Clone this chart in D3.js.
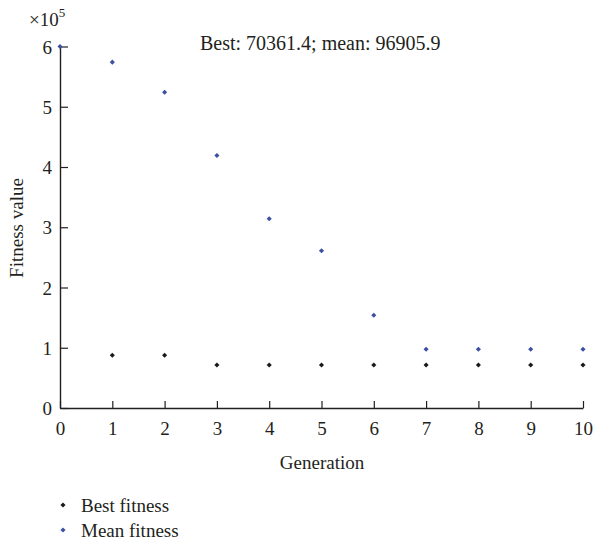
<!DOCTYPE html>
<html>
<head>
<meta charset="utf-8">
<script src="https://cdn.jsdelivr.net/npm/d3@7"></script>
<style>
  body { margin: 0; background: #fff; }
  text { font-family: "Liberation Serif", "DejaVu Serif", serif; fill: #231f20; }
</style>
</head>
<body>
<div id="chart"></div>
<script>
var width = 595;
var height = 546;

// data (fitness values in units of 1e5)
var generations = [0, 1, 2, 3, 4, 5, 6, 7, 8, 9, 10];
var bestFitness = [null, 0.875, 0.875, 0.714, 0.714, 0.714, 0.714, 0.714, 0.714, 0.714, 0.714];
var meanFitness = [6.0, 5.74, 5.24, 4.19, 3.14, 2.61, 1.54, 0.975, 0.975, 0.975, 0.975];
var xTicks = [0, 1, 2, 3, 4, 5, 6, 7, 8, 9, 10];
var yTicks = [0, 1, 2, 3, 4, 5, 6];
var seriesNames = ["Best fitness", "Mean fitness"];
var seriesColors = ["#1a1a1a", "#3a50a5"];
var titleText = "Best: 70361.4; mean: 96905.9";

var fontSize = 19;

var svg = d3.select("#chart")
    .append("svg")
    .attr("width", width)
    .attr("height", height);

var x = d3.scaleLinear().domain([0, 10]).range([60, 583]);
var y = d3.scaleLinear().domain([0, 6]).range([408, 46.5]);

// axes
var xAxis = d3.axisBottom(x).tickValues(xTicks).tickFormat(d3.format("d"))
    .tickSizeInner(-7).tickSizeOuter(0).tickPadding(14);
var yAxis = d3.axisLeft(y).tickValues(yTicks).tickFormat(d3.format("d"))
    .tickSizeInner(-8).tickSizeOuter(0).tickPadding(8);

var gx = svg.append("g").attr("transform", "translate(0,408)").call(xAxis);
var gy = svg.append("g").attr("transform", "translate(60,0)").call(yAxis);

[gx, gy].forEach(function(g){
    g.attr("font-size", fontSize);
    g.select(".domain").attr("stroke", "#231f20").attr("stroke-width", 1.4);
    g.selectAll(".tick line").attr("stroke", "#231f20").attr("stroke-width", 1.2);
    g.selectAll(".tick text").attr("fill", "#231f20");
});
gy.selectAll(".tick text").attr("x", -8).attr("dy", "0.35em");

// exponent label
var expo = svg.append("text")
    .attr("x", 29)
    .attr("y", 26)
    .attr("font-size", fontSize);
expo.append("tspan").text("\u00d710");
expo.append("tspan").attr("dy", -9).attr("font-size", 13).text("5");

// axis titles
svg.append("text")
    .attr("x", 322)
    .attr("y", 469)
    .attr("text-anchor", "middle")
    .attr("font-size", fontSize)
    .text("Generation");

svg.append("text")
    .attr("transform", "translate(23,228) rotate(-90)")
    .attr("text-anchor", "middle")
    .attr("font-size", fontSize)
    .text("Fitness value");

// title
svg.append("text")
    .attr("x", 200)
    .attr("y", 50)
    .attr("font-size", 20)
    .text(titleText);

// points
var marker = d3.symbol().type(d3.symbolSquare).size(13);

var series = [bestFitness, meanFitness];
series.forEach(function(vals, s){
    svg.append("g")
        .selectAll("path")
        .data(generations.filter(function(d, i){ return vals[i] != null; }))
        .enter()
            .append("path")
            .attr("d", marker)
            .attr("fill", seriesColors[s])
            .attr("transform", function(d){
                return "translate(" + x(d) + "," + y(vals[generations.indexOf(d)]) + ") rotate(45)";
            });
});

// legend
var legend = svg.append("g")
    .selectAll("g")
    .data(seriesNames)
    .enter()
        .append("g")
        .attr("transform", function(d, i){ return "translate(63," + (505 + i * 25) + ")"; });

legend.append("path")
    .attr("d", marker)
    .attr("transform", "rotate(45)")
    .attr("fill", function(d, i){ return seriesColors[i]; });

legend.append("text")
    .attr("x", 18)
    .attr("dy", "0.35em")
    .attr("font-size", fontSize)
    .text(function(d){ return d; });
</script>
</body>
</html>
